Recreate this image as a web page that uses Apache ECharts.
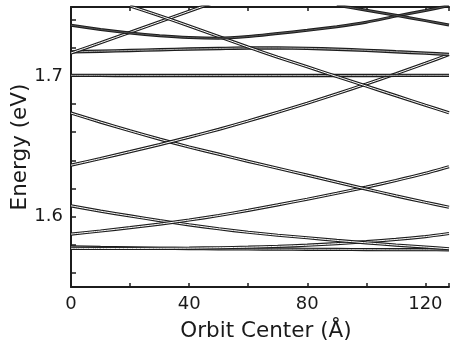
<!DOCTYPE html>
<html>
<head>
<meta charset="utf-8">
<script src="https://cdn.jsdelivr.net/npm/echarts@6/dist/echarts.min.js"></script>
<style>
  html, body { margin: 0; padding: 0; background: #fff; }
  #chart { width: 450px; height: 343px; }
</style>
</head>
<body>
<div id="chart"></div>
<script>
// orbit center positions (Angstrom) shared by most levels
var xs = [0, 10, 20, 30, 40, 50, 60, 70, 80, 90, 100, 110, 120, 128];
var xsD1 = [20, 30, 40, 50, 60, 70, 80, 90, 100, 110, 120, 128];
var xsR1 = [0, 10, 20, 30, 40, 50];
var xsD2 = [90, 100, 110, 120, 128];

// energies (eV)
var levelR5 = [1.5775, 1.5774, 1.5774, 1.5775, 1.5776, 1.5779, 1.5783, 1.5789, 1.5797, 1.5808, 1.5822, 1.5838, 1.5858, 1.5880];
var levelD5 = [1.5785, 1.5781, 1.5778, 1.5775, 1.5773, 1.5771, 1.5770, 1.5769, 1.5768, 1.5767, 1.5766, 1.5765, 1.5765, 1.5764];
var levelA  = [1.6077, 1.6039, 1.6005, 1.5972, 1.5942, 1.5914, 1.5889, 1.5868, 1.5850, 1.5831, 1.5814, 1.5798, 1.5784, 1.5772];
var levelR4 = [1.5876, 1.5898, 1.5922, 1.5947, 1.5976, 1.6008, 1.6045, 1.6084, 1.6124, 1.6166, 1.6210, 1.6257, 1.6308, 1.6355];
var levelD3 = [1.6736, 1.6672, 1.6610, 1.6551, 1.6495, 1.6444, 1.6393, 1.6344, 1.6295, 1.6245, 1.6196, 1.6148, 1.6102, 1.6067];
var levelR2 = [1.6366, 1.6413, 1.6462, 1.6512, 1.6565, 1.6620, 1.6680, 1.6742, 1.6806, 1.6873, 1.6943, 1.7015, 1.7090, 1.7152];
var levelFlat = [1.7004, 1.7004, 1.7003, 1.7003, 1.7003, 1.7003, 1.7003, 1.7003, 1.7003, 1.7003, 1.7003, 1.7004, 1.7004, 1.7004];
var levelL2 = [1.7171, 1.7176, 1.7181, 1.7186, 1.7191, 1.7195, 1.7199, 1.7199, 1.7196, 1.7190, 1.7182, 1.7172, 1.7162, 1.7153];
var levelP  = [1.7361, 1.7330, 1.7305, 1.7286, 1.7273, 1.7268, 1.7280, 1.7302, 1.7324, 1.7350, 1.7382, 1.7425, 1.7465, 1.7500];
var levelD1 = [1.7497, 1.7428, 1.7355, 1.7280, 1.7205, 1.7133, 1.7065, 1.6996, 1.6928, 1.6860, 1.6792, 1.6738];
var levelR1 = [1.7163, 1.7236, 1.7310, 1.7385, 1.7460, 1.7535];
var levelD2 = [1.7503, 1.7467, 1.7431, 1.7393, 1.7362];

// axis ticks
var xLabels = [0, 40, 80, 120];
var yTicks = [1.56, 1.58, 1.6, 1.62, 1.64, 1.66, 1.68, 1.7, 1.72, 1.74];
var yLabels = [1.6, 1.7];

var ink = '#1c1c1c';

function pairs(x, y) {
    return x.map(function (v, i) { return [v, y[i]]; });
}

// every level is drawn as a dark stroke with a thin light core -> double line look
var series = [];
function addLevel(name, x, y, core, outer) {
    var d = pairs(x, y);
    series.push({
        name: name, type: 'line', data: d, symbol: 'none', smooth: 0.2, silent: true,
        lineStyle: { color: ink, width: outer || 3.2 }
    });
    series.push({
        name: name + '-core', type: 'line', data: d, symbol: 'none', smooth: 0.2, silent: true,
        lineStyle: { color: core || '#fff', width: 1 }
    });
}

addLevel('D5', xs, levelD5, '#bbb', 3.2);
addLevel('R5', xs, levelR5);
addLevel('A', xs, levelA);
addLevel('R4', xs, levelR4);
addLevel('D3', xs, levelD3);
addLevel('R2', xs, levelR2);
addLevel('flat', xs, levelFlat, '#aaa', 3.4);
addLevel('L2', xs, levelL2, '#aaa', 3.4);
addLevel('R1', xsR1, levelR1);
addLevel('D1', xsD1, levelD1);
addLevel('P', xs, levelP, '#555', 3);
addLevel('D2', xsD2, levelD2, '#555', 3);

var font = 'DejaVu Sans';

var chart = echarts.init(document.getElementById('chart'), null, { renderer: 'canvas' });
chart.setOption({
    animation: false,
    backgroundColor: '#fff',
    grid: { left: 71, right: 1, top: 7, bottom: 56, containLabel: false, outerBoundsMode: 'none' },
    xAxis: [{
        type: 'value', position: 'bottom', min: 0, max: 128, interval: 20,
        name: 'Orbit Center (Å)', nameLocation: 'middle', nameGap: 33, nameMoveOverlap: false,
        nameTextStyle: { fontFamily: font, fontSize: 21.5, color: '#1a1a1a', padding: [0, 0, 0, 12] },
        axisLine: { lineStyle: { color: ink, width: 2 } },
        axisTick: { inside: true, length: 4, lineStyle: { color: ink, width: 1.5 } },
        axisLabel: {
            margin: 8, fontFamily: font, fontSize: 18, color: '#1a1a1a',
            formatter: function (v) { return xLabels.indexOf(v) >= 0 ? String(v) : ''; }
        },
        splitLine: { show: false }
    }, {
        type: 'value', position: 'top', min: 0, max: 128, interval: 20,
        axisLine: { lineStyle: { color: ink, width: 2 } },
        axisTick: { inside: true, length: 4, lineStyle: { color: ink, width: 1.5 } },
        axisLabel: { show: false },
        splitLine: { show: false }
    }],
    yAxis: {
        type: 'value', min: 1.55, max: 1.749,
        name: 'Energy (eV)', nameLocation: 'middle', nameGap: 40, nameMoveOverlap: false,
        nameTextStyle: { fontFamily: font, fontSize: 21.5, color: '#1a1a1a' },
        axisLine: { show: true, lineStyle: { color: ink, width: 2 } },
        axisTick: { show: true, inside: true, length: 5, customValues: yTicks, lineStyle: { color: ink, width: 1.5 } },
        axisLabel: {
            margin: 8, fontFamily: font, fontSize: 18, color: '#1a1a1a', customValues: yLabels,
            formatter: function (v) { return v.toFixed(1); }
        },
        splitLine: { show: false }
    },
    series: series
});
</script>
</body>
</html>
